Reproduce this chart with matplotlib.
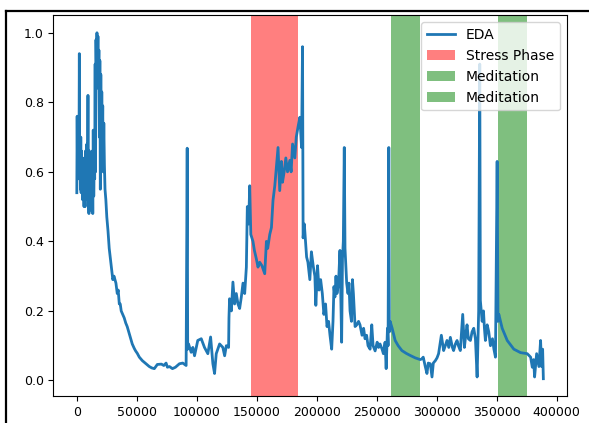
import matplotlib
matplotlib.use("Agg")
import matplotlib.pyplot as plt
from matplotlib.lines import Line2D

# EDA trace: sample index and normalised value (each line of t pairs with the same line of v)
eda_t = [
    0, 300, 600, 900, 1200, 1500, 1800, 2100, 2400, 2700,
    3000, 3300, 3600, 3900, 4200, 4500, 4800, 5100, 5400, 5700,
    6000, 6300, 6600, 6900, 7200, 7500, 7800, 8100, 8400, 8800,
    9300, 9700, 10100, 10500, 10900, 11300, 11700, 12100, 12500, 12900,
    13300, 13700, 14100, 14500, 14900, 15300, 15600, 16000, 16400, 16800,
    17200, 17600, 18000, 18400, 18800, 19200, 19600, 20000, 20400, 20800,
    21200, 21600, 22000, 22500, 23000, 23500, 24200, 25000, 26000, 27000,
    28000, 29300, 30000, 31000, 32600, 33700, 34500, 35400, 36200, 37000,
    38200, 39500, 40800, 42000, 43700, 45000, 46200, 47900, 49000, 50400,
    52100, 54600, 57700, 60400, 62500, 64600, 67100, 70500, 72500, 74400,
    75500, 77200, 79700, 82200, 85500, 88300, 91100, 92000, 92400, 93100,
    95300, 96700, 98100, 100800, 103700, 106400, 109200, 111500, 113400, 114800,
    116200, 119000, 121700, 123200, 124600, 126500, 126800, 127300, 128800, 130100,
    131500, 132900, 134300, 135700, 137100, 138500, 139900, 141300, 142100, 143200,
    144100, 145000, 146800, 148000, 149600, 151000, 152400, 154300, 156600, 158000,
    159100, 160800, 162200, 163500, 165000, 166200, 167700, 169100, 170500, 171400,
    172800, 174200, 175600, 177500, 178600, 179800, 181700, 182900, 184400, 185900,
    187300, 188100, 188600, 189600, 191500, 192600, 194200, 195500, 197000, 198400,
    199200, 200600, 201900, 203200, 204600, 205900, 207300, 208500, 209800, 211000,
    212400, 213500, 214300, 215100, 216000, 216800, 218100, 219300, 220700, 221400,
    222100, 222900, 223500, 224900, 226000, 226800, 227700, 228900, 229700, 230500,
    231900, 233300, 234800, 236000, 237700, 239000, 240200, 241500, 242700, 244400,
    245800, 246900, 248600, 250300, 251500, 252700, 254400, 255500, 256900, 257800,
    258900, 259400, 260000, 260500, 261100, 262800, 265300, 267800, 270900, 274500,
    277800, 282000, 286200, 287500, 288700, 290400, 291800, 292900, 294600, 296000,
    297100, 298800, 300200, 301500, 303800, 305700, 307100, 308500, 310000, 311300,
    313000, 314000, 315500, 316900, 318000, 319600, 321600, 323000, 324100, 325200,
    326300, 328000, 329400, 330800, 332200, 333600, 334900, 335800, 336300, 337800,
    338900, 339700, 340500, 342000, 343300, 344700, 346400, 347600, 348900, 350300,
    351000, 351700, 354500, 358700, 364200, 369800, 375400, 378200, 379600, 380700,
    381500, 383200, 385100, 386500, 387300, 388200, 388800,
]
eda_v = [
    0.54, 0.76, 0.60, 0.75, 0.58, 0.70, 0.62, 0.94, 0.60, 0.68,
    0.55, 0.70, 0.54, 0.66, 0.58, 0.64, 0.52, 0.62, 0.55, 0.60,
    0.50, 0.64, 0.57, 0.50, 0.66, 0.56, 0.60, 0.52, 0.68, 0.55,
    0.82, 0.55, 0.48, 0.66, 0.58, 0.64, 0.49, 0.63, 0.53, 0.66,
    0.48, 0.72, 0.53, 0.62, 0.58, 0.91, 0.60, 0.98, 0.86, 1.00,
    0.88, 0.99, 0.84, 0.95, 0.70, 0.92, 0.55, 0.88, 0.62, 0.83,
    0.66, 0.79, 0.60, 0.74, 0.62, 0.55, 0.52, 0.47, 0.43, 0.38,
    0.35, 0.31, 0.29, 0.30, 0.28, 0.25, 0.26, 0.22, 0.22, 0.20,
    0.19, 0.18, 0.165, 0.155, 0.135, 0.12, 0.105, 0.092, 0.085, 0.078,
    0.067, 0.057, 0.048, 0.040, 0.036, 0.034, 0.046, 0.047, 0.043, 0.050,
    0.038, 0.040, 0.034, 0.038, 0.048, 0.050, 0.043, 0.668, 0.090, 0.105,
    0.081, 0.095, 0.071, 0.115, 0.120, 0.095, 0.077, 0.125, 0.048, 0.020,
    0.077, 0.105, 0.095, 0.071, 0.100, 0.095, 0.180, 0.235, 0.200, 0.283,
    0.220, 0.250, 0.220, 0.207, 0.240, 0.280, 0.250, 0.326, 0.500, 0.450,
    0.560, 0.420, 0.400, 0.374, 0.350, 0.326, 0.340, 0.330, 0.307, 0.400,
    0.380, 0.420, 0.440, 0.518, 0.560, 0.610, 0.670, 0.546, 0.630, 0.570,
    0.600, 0.640, 0.600, 0.633, 0.600, 0.680, 0.640, 0.700, 0.730, 0.757,
    0.670, 0.960, 0.410, 0.450, 0.355, 0.340, 0.290, 0.370, 0.330, 0.300,
    0.216, 0.330, 0.260, 0.290, 0.250, 0.190, 0.220, 0.155, 0.170, 0.130,
    0.090, 0.170, 0.270, 0.240, 0.300, 0.250, 0.280, 0.374, 0.110, 0.350,
    0.400, 0.670, 0.380, 0.280, 0.250, 0.280, 0.200, 0.170, 0.290, 0.250,
    0.155, 0.160, 0.170, 0.160, 0.130, 0.150, 0.120, 0.130, 0.100, 0.090,
    0.160, 0.100, 0.085, 0.110, 0.095, 0.105, 0.090, 0.077, 0.110, 0.034,
    0.150, 0.100, 0.670, 0.140, 0.170, 0.150, 0.115, 0.100, 0.086, 0.078,
    0.072, 0.065, 0.060, 0.062, 0.067, 0.040, 0.020, 0.050, 0.048, 0.010,
    0.050, 0.057, 0.065, 0.077, 0.130, 0.086, 0.100, 0.115, 0.095, 0.124,
    0.095, 0.086, 0.105, 0.115, 0.100, 0.086, 0.190, 0.095, 0.130, 0.160,
    0.120, 0.115, 0.140, 0.150, 0.120, 0.010, 0.200, 0.910, 0.230, 0.170,
    0.200, 0.150, 0.115, 0.160, 0.140, 0.100, 0.120, 0.090, 0.067, 0.630,
    0.170, 0.190, 0.150, 0.115, 0.090, 0.080, 0.077, 0.067, 0.038, 0.060,
    0.010, 0.077, 0.040, 0.115, 0.040, 0.090, 0.005,
]
assert len(eda_t) == len(eda_v)

# phase windows (sample index)
stress_phase = (145000, 184300)
meditation_phases = [(261700, 286200), (351400, 375400)]

plt.rcParams["font.size"] = 9

fig = plt.figure(figsize=(5.89, 4.23), dpi=100)
ax = fig.add_axes([0.0908, 0.0638, 0.8713, 0.8996])

ax.plot(eda_t, eda_v, label="EDA", linewidth=2.0)
ax.axvspan(*stress_phase, color="red", alpha=0.5, lw=0, label="Stress Phase")
for start, end in meditation_phases:
    ax.axvspan(start, end, color="green", alpha=0.5, lw=0, label="Meditation")
ax.legend(loc="upper right", fontsize=10)

# frame lines around the output cell
fig.add_artist(Line2D([6 / 589, 6 / 589], [0, 1 - 11.5 / 423],
                      transform=fig.transFigure, color="black", lw=1.6))
fig.add_artist(Line2D([6 / 589, 1], [1 - 11.5 / 423, 1 - 11.5 / 423],
                      transform=fig.transFigure, color="black", lw=1.6))

fig.savefig("out.png", dpi=100)
